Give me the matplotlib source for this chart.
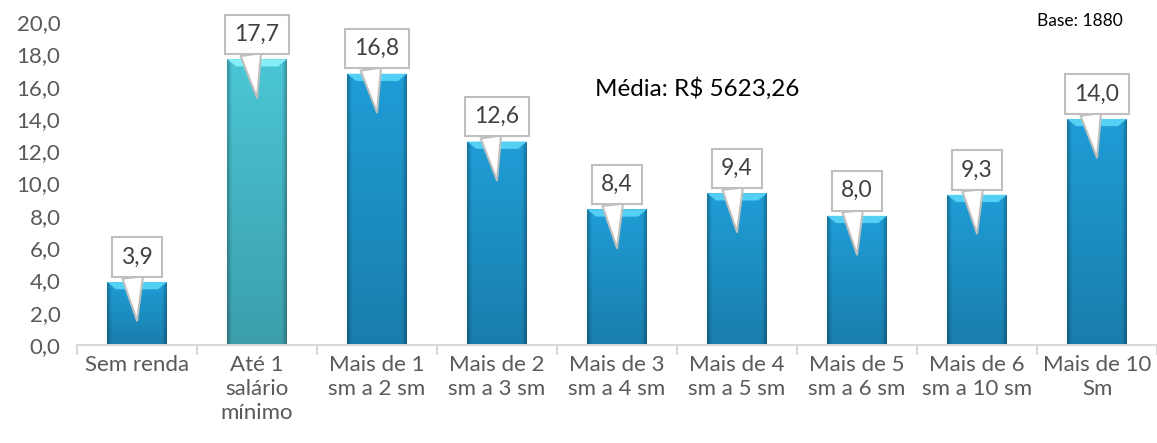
import numpy as np
import matplotlib
matplotlib.use("Agg")
import matplotlib.pyplot as plt
from matplotlib.patches import Polygon
from matplotlib.colors import to_rgb

plt.rcParams['font.family'] = ['Lato', 'DejaVu Sans']

categorias = ["Sem renda", "Até 1\nsalário\nmínimo", "Mais de 1\nsm a 2 sm",
              "Mais de 2\nsm a 3 sm", "Mais de 3\nsm a 4 sm", "Mais de 4\nsm a 5 sm",
              "Mais de 5\nsm a 6 sm", "Mais de 6\nsm a 10 sm", "Mais de 10\nSm"]
valores = [3.9, 17.7, 16.8, 12.6, 8.4, 9.4, 8.0, 9.3, 14.0]
rotulos = ["3,9", "17,7", "16,8", "12,6", "8,4", "9,4", "8,0", "9,3", "14,0"]
yticks = [0, 2, 4, 6, 8, 10, 12, 14, 16, 18, 20]

azul = "#1F9DD6"
teal = "#4BC6D6"
cores = [azul, teal] + [azul] * 7
bisel = ["#55D0F5", "#86EEF6"] + ["#55D0F5"] * 7

fig = plt.figure(figsize=(11.57, 4.43), dpi=100)
ax = fig.add_axes([0.0666, 0.2212, 0.9334, 0.7291])

x = np.arange(len(valores))
bars = ax.bar(x, valores, width=0.5, color=cores, zorder=2)

# gradient / bevel look on each bar
for b, c, bc in zip(bars, cores, bisel):
    x0, w, h = b.get_x(), b.get_width(), b.get_height()
    base = np.array(to_rgb(c))
    nx, ny = 40, 100
    gx = np.linspace(0, 1, nx)
    gy = np.linspace(0, 1, ny)
    side = 1 - 0.25 * np.clip(1 - np.minimum(gx, 1 - gx) / 0.07, 0, 1)
    vert = 0.80 + 0.20 * gy
    shade = vert[:, None] * side[None, :]
    img = np.clip(base[None, None, :] * shade[:, :, None], 0, 1)
    im = ax.imshow(img, extent=[x0, x0 + w, 0, h], origin='lower',
                   aspect='auto', zorder=3, interpolation='bilinear')
    im.set_clip_path(b)
    bh = min(0.45, h * 0.2)
    ins = w * 0.15
    top = Polygon([[x0, h], [x0 + w, h], [x0 + w - ins, h - bh], [x0 + ins, h - bh]],
                  closed=True, fc=bc, ec='none', zorder=4)
    ax.add_patch(top)

# callout labels
for xi, v, t in zip(x, valores, rotulos):
    ax.annotate(t, xy=(xi, v - 2.4), xytext=(xi, v + 1.67),
                ha='center', va='center_baseline', fontsize=16.5, color='#404040',
                bbox=dict(boxstyle='square,pad=0.4', fc='white', ec='#BFBFBF', lw=1.5),
                arrowprops=dict(arrowstyle='wedge,tail_width=0.9',
                                fc='white', ec='#BFBFBF', lw=1.5,
                                relpos=(0.33, 0.0), shrinkA=0, shrinkB=0),
                zorder=6)

ax.set_xlim(-0.5, len(valores) - 0.5)
ax.set_ylim(0, 20)
ax.set_yticks(yticks)
ax.set_yticklabels([f"{v:.1f}".replace('.', ',') for v in yticks])
ax.set_xticks(x)
ax.set_xticklabels(categorias, linespacing=1.25)
ax.set_xticks(np.arange(len(valores) + 1) - 0.5, minor=True)
ax.tick_params(axis='x', which='major', length=0, pad=7, labelsize=16, labelcolor='#595959')
ax.tick_params(axis='x', which='minor', length=7, width=1.5, color='#D9D9D9')
ax.tick_params(axis='y', length=0, pad=12, labelsize=16, labelcolor='#595959')

for s in ['top', 'right', 'left']:
    ax.spines[s].set_visible(False)
ax.spines['bottom'].set_color('#D9D9D9')
ax.spines['bottom'].set_linewidth(1.5)
ax.spines['bottom'].set_zorder(5)

fig.text(0.603, 0.80, "Média: R$ 5623,26", fontsize=17.5, color='black', ha='center', va='center')
fig.text(0.933, 0.952, "Base: 1880", fontsize=12.5, color='black', ha='center', va='center')

fig.savefig("out.png", dpi=100)
